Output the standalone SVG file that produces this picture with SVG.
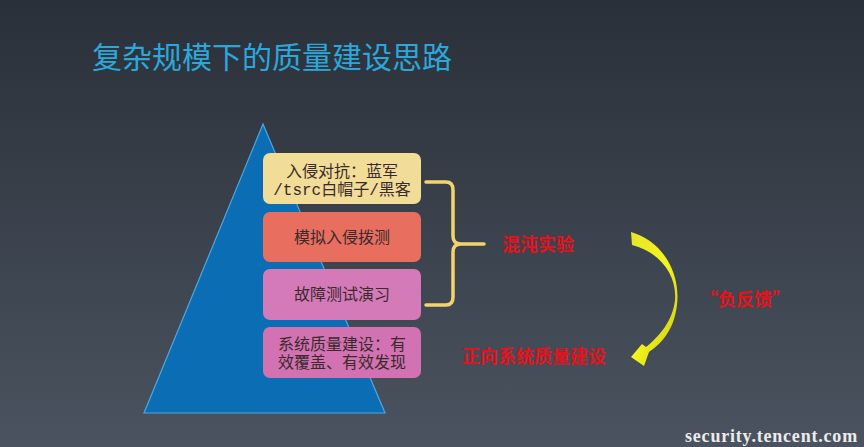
<svg xmlns="http://www.w3.org/2000/svg" width="864" height="447" viewBox="0 0 864 447">
<defs>
<linearGradient id="bg" x1="0" y1="0" x2="0" y2="1">
<stop offset="0" stop-color="#2a3039"/>
<stop offset="1" stop-color="#4a535f"/>
</linearGradient>
<linearGradient id="arrowg" x1="0" y1="0" x2="1" y2="1">
<stop offset="0" stop-color="#e6e62a"/>
<stop offset="0.5" stop-color="#f4f41e"/>
<stop offset="1" stop-color="#c9c90c"/>
</linearGradient>
</defs>
<style>
.title{font-family:"Noto Sans CJK SC",sans-serif;font-size:30px;fill:#2ca7dc}
.box{stroke:none}
.bt{font-family:"Liberation Mono","Noto Sans CJK SC",monospace;font-size:16px;fill:#3a2a2c;text-anchor:middle}
.red{font-family:"Noto Sans CJK SC",sans-serif;font-size:18px;font-weight:bold;fill:#e6121b}
.brace{fill:none;stroke:#f3d36c;stroke-width:3.5;stroke-linecap:round;stroke-linejoin:round}
.foot{font-family:"Liberation Serif",serif;font-size:18px;font-weight:bold;fill:#ececec;letter-spacing:0.8px}
</style>
<rect width="864" height="447" fill="url(#bg)"/>
<text class="title" x="92" y="68">复杂规模下的质量建设思路</text>
<g id="pyramid">
<polygon points="263,124 144,413 385,413" fill="#0b6db3" stroke="#4ea7e0" stroke-width="1.2"/>
</g>
<g id="box1">
<rect class="box" x="263" y="153" width="158" height="51" rx="7" fill="#f1dc98"/>
<text class="bt" x="342" y="177">入侵对抗：蓝军</text>
<text class="bt" x="342" y="195">/tsrc白帽子/黑客</text>
</g>
<g id="box2">
<rect class="box" x="263" y="212" width="158" height="50" rx="7" fill="#e86f5f"/>
<text class="bt" x="342" y="243">模拟入侵拨测</text>
</g>
<g id="box3">
<rect class="box" x="263" y="269" width="158" height="51" rx="7" fill="#d57ab8"/>
<text class="bt" x="342" y="300">故障测试演习</text>
</g>
<g id="box4">
<rect class="box" x="263" y="327" width="158" height="51" rx="7" fill="#d372b2"/>
<text class="bt" x="342" y="350">系统质量建设：有</text>
<text class="bt" x="342" y="368">效覆盖、有效发现</text>
</g>
<g id="connectors">
<path class="brace" d="M426,182 L446,182 Q453,182 453,190 L453,236 Q453,244 461,244 L484,244 M461,244 Q453,244 453,252 L453,297 Q453,305 446,305 L426,305"/>
<path d="M631,232 C660,240 681,270 677,305 C674,330 662,343 649,352 L644,366 L631,357 L642,344 L646,347 C660,336 673,320 675,300 C677,275 660,252 632,245 Z" fill="url(#arrowg)"/>
</g>
<g id="labels">
<text class="red" x="502" y="251">混沌实验</text>
<text class="red" x="462" y="363">正向系统质量建设</text>
<text class="red" x="700" y="306">“负反馈”</text>
</g>
<text class="foot" x="685" y="442">security.tencent.com</text>
</svg>
